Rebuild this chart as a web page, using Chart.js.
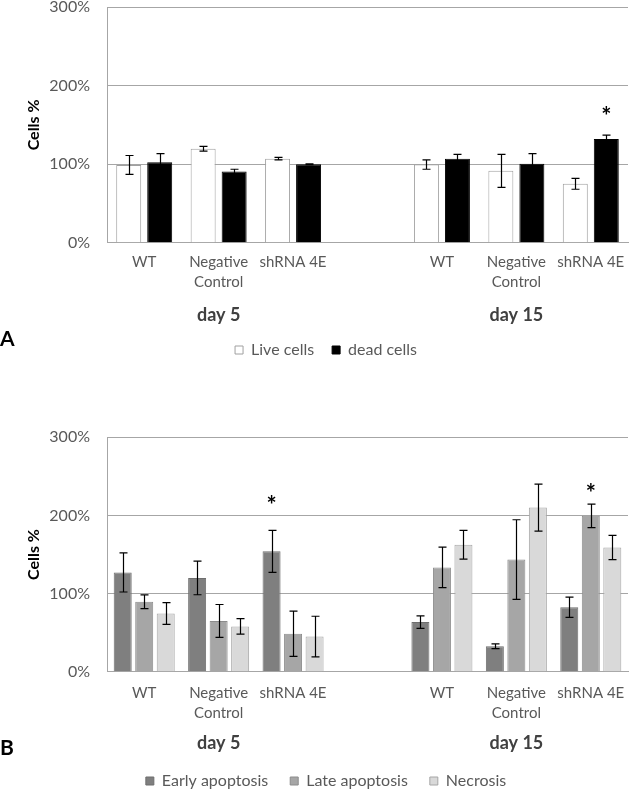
<!DOCTYPE html>
<html><head><meta charset="utf-8">
<script src="https://cdn.jsdelivr.net/npm/chart.js@4/dist/chart.umd.min.js"></script>
<style>
html,body{margin:0;padding:0;background:#fff;overflow:hidden;}
#wrap{position:relative;width:630px;height:790px;overflow:hidden;}
#ca{position:absolute;left:0;top:0;}
#cb{position:absolute;left:0;top:368px;}
</style></head><body>
<div id="wrap">
<canvas id="ca" width="630" height="368"></canvas>
<canvas id="cb" width="630" height="431"></canvas>
</div>
<script>
// ---- data ----
const categories = ["WT", ["Negative", "Control"], "shRNA 4E", "", "WT", ["Negative", "Control"], "shRNA 4E"];
const groupLabels = ["day 5", "day 15"];
const groupIndex = [1, 5];
const yTickValues = [0, 100, 200, 300];

// Panel A
const liveCells = [99, 119.5, 107, null, 99.5, 91.5, 75];
const liveErr = [12, 3, 1.5, null, 6, 21, 7];
const deadCells = [102.5, 90.5, 100, null, 107, 100.5, 132];
const deadErr = [11, 3, 0.5, null, 5.5, 13, 5];
const deadStars = [null, null, null, null, null, null, 166];

// Panel B
const earlyApoptosis = [127, 120, 154, null, 63.5, 32.5, 82.5];
const earlyErr = [25, 21.5, 27, null, 8, 3, 13];
const lateApoptosis = [89.5, 65, 48.5, null, 133.5, 143.5, 199.5];
const lateErr = [8.7, 21, 29, null, 26, 51, 15];
const necrosis = [74.5, 58, 45, null, 162.5, 210, 159];
const necrosisErr = [14, 10, 26, null, 18.5, 30, 15.5];
const earlyStars = [null, null, 218, null, null, null, null];
const lateStars = [null, null, null, null, null, null, 234];

const FONT = "Lato, 'Open Sans', sans-serif";
const TXT = '#595959';
const GRID = '#a6a6a6';

const errorBars = {
  id: 'errorBars',
  afterDatasetsDraw(chart) {
    const ctx = chart.ctx, ys = chart.scales.y;
    ctx.save();
    ctx.strokeStyle = '#000';
    ctx.lineWidth = 1.2;
    chart.data.datasets.forEach((ds, i) => {
      const meta = chart.getDatasetMeta(i);
      ds.data.forEach((v, j) => {
        if (v == null || ds.errors == null || ds.errors[j] == null) return;
        const el = meta.data[j];
        const x = Math.round(el.x) + 0.5;
        const yt = ys.getPixelForValue(v + ds.errors[j]);
        const yb = ys.getPixelForValue(v - ds.errors[j]);
        ctx.beginPath();
        ctx.moveTo(x, yt); ctx.lineTo(x, yb);
        ctx.moveTo(x - 4, yt); ctx.lineTo(x + 4, yt);
        ctx.moveTo(x - 4, yb); ctx.lineTo(x + 4, yb);
        ctx.stroke();
      });
    });
    ctx.restore();
  }
};

const annotations = {
  id: 'annotations',
  afterDraw(chart, args, opts) {
    const ctx = chart.ctx, xs = chart.scales.x, ys = chart.scales.y, ca = chart.chartArea;
    ctx.save();
    // asterisks
    ctx.fillStyle = '#000';
    ctx.font = 'bold 24px ' + FONT;
    ctx.textAlign = 'center';
    ctx.textBaseline = 'alphabetic';
    chart.data.datasets.forEach((ds, i) => {
      if (!ds.stars) return;
      const meta = chart.getDatasetMeta(i);
      ds.stars.forEach((s, j) => {
        if (s == null) return;
        const el = meta.data[j];
        ctx.fillText('*', el.x, ys.getPixelForValue(s) + 13);
      });
    });
    // group labels
    ctx.font = 'bold 18px ' + FONT;
    ctx.fillStyle = '#404040';
    ctx.textBaseline = 'middle';
    groupLabels.forEach((g, k) => {
      ctx.fillText(g, xs.getPixelForValue(groupIndex[k]), ca.bottom + opts.groupOffset);
    });
    // panel letter
    ctx.font = 'bold 21px ' + FONT;
    ctx.fillStyle = '#000';
    ctx.textAlign = 'left';
    ctx.fillText(opts.letter, 0, opts.letterY);
    ctx.restore();
  }
};

function makeOptions(cfg) {
  return {
    responsive: false,
    animation: false,
    layout: { padding: { left: 24, right: 2, top: cfg.top, bottom: 0 } },
    plugins: {
      legend: {
        display: true,
        position: 'bottom',
        labels: {
          color: TXT,
          font: { family: FONT, size: 16 },
          boxWidth: 8, boxHeight: 8,
          padding: cfg.legendGap
        }
      },
      tooltip: { enabled: false },
      annotations: { letter: cfg.letter, letterY: cfg.letterY, groupOffset: cfg.groupOffset }
    },
    scales: {
      x: {
        grid: { display: false, drawTicks: false },
        border: { display: true, color: GRID, width: 1 },
        ticks: { color: TXT, font: { family: FONT, size: 15, lineHeight: 1.35 }, padding: cfg.xPad, maxRotation: 0, autoSkip: false },
        afterFit(s) { s.height = cfg.xHeight; s.paddingLeft = 0; s.paddingRight = 0; }
      },
      y: {
        min: 0, max: 300,
        afterBuildTicks(s) { s.ticks = yTickValues.map(v => ({ value: v })); },
        grid: { color: GRID, lineWidth: 1, drawTicks: false },
        border: { display: true, color: GRID, width: 1 },
        ticks: { color: TXT, font: { family: FONT, size: 16 }, padding: 17, callback: v => v + '%' },
        title: { display: true, text: 'Cells %', color: '#000', font: { family: FONT, size: 16, weight: 'bold' }, padding: { top: 0, bottom: 0 } },
        afterFit(s) { s.width = 83; s.paddingTop = 0; s.paddingBottom = 0; }
      }
    }
  };
}

new Chart(document.getElementById('ca'), {
  type: 'bar',
  data: {
    labels: categories,
    datasets: [
      { label: 'Live cells', data: liveCells, errors: liveErr,
        backgroundColor: '#ffffff', borderColor: '#a0a0a0', borderWidth: 1,
        barPercentage: 0.806, categoryPercentage: 0.833 },
      { label: 'dead cells', data: deadCells, errors: deadErr, stars: deadStars,
        backgroundColor: '#000000', borderColor: '#000000', borderWidth: 1,
        barPercentage: 0.806, categoryPercentage: 0.833 }
    ]
  },
  options: makeOptions({ top: 7, xHeight: 81.3, xPad: 9, letter: 'A', letterY: 339, groupOffset: 72.3, legendGap: 18 }),
  plugins: [errorBars, annotations]
});

new Chart(document.getElementById('cb'), {
  type: 'bar',
  data: {
    labels: categories,
    datasets: [
      { label: 'Early apoptosis', data: earlyApoptosis, errors: earlyErr, stars: earlyStars,
        backgroundColor: '#7f7f7f', borderColor: '#6e6e6e', borderWidth: 1,
        barPercentage: 0.837, categoryPercentage: 0.867 },
      { label: 'Late apoptosis', data: lateApoptosis, errors: lateErr, stars: lateStars,
        backgroundColor: '#a6a6a6', borderColor: '#8c8c8c', borderWidth: 1,
        barPercentage: 0.837, categoryPercentage: 0.867 },
      { label: 'Necrosis', data: necrosis, errors: necrosisErr,
        backgroundColor: '#d9d9d9', borderColor: '#a6a6a6', borderWidth: 1,
        barPercentage: 0.837, categoryPercentage: 0.867 }
    ]
  },
  options: makeOptions({ top: 69.3, xHeight: 79.3, xPad: 11, letter: 'B', letterY: 380.3, groupOffset: 71.3, legendGap: 22 }),
  plugins: [errorBars, annotations]
});
</script>
</body></html>
